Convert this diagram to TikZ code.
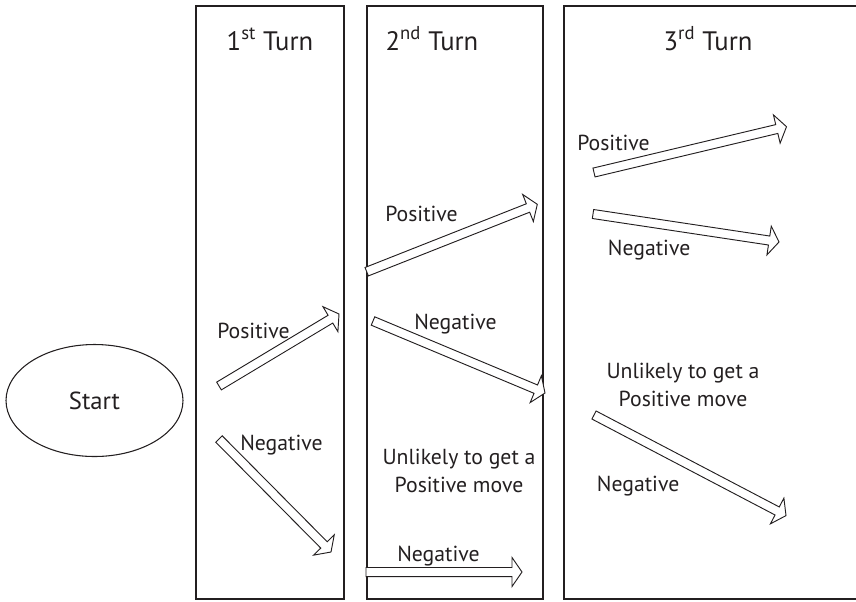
\documentclass[tikz,border=0pt]{standalone}
\usepackage{fontspec}
\setmainfont{PT Sans}
\usetikzlibrary{calc,shapes.geometric}
\definecolor{ink}{HTML}{231F20}
\newcommand{\blockarrow}[2]{%
  \coordinate (hb) at ($(#2)!7.5pt!(#1)$);
  \draw[arrowline] ($(#1)!3.4pt!90:(#2)$) -- ($(hb)!3.4pt!90:(#2)$) -- ($(hb)!10.9pt!90:(#2)$) -- (#2)
    -- ($(hb)!10.9pt!-90:(#2)$) -- ($(hb)!3.4pt!-90:(#2)$) -- ($(#1)!3.4pt!-90:(#2)$) -- cycle;}
\begin{document}
\begin{tikzpicture}[x=0.75pt,y=-0.75pt,
  column/.style={draw=ink, line width=0.8pt, minimum height=444.75pt, inner sep=0pt},
  title/.style={text=ink, font=\fontsize{20pt}{24pt}\selectfont, inner sep=0pt, anchor=base},
  lbl/.style={text=ink, font=\fontsize{16.3pt}{21pt}\selectfont, inner sep=0pt, anchor=base west},
  lbltwo/.style={text=ink, font=\fontsize{16.3pt}{21pt}\selectfont, inner sep=0pt, align=center, anchor=base},
  arrowline/.style={draw=ink, line width=0.7pt, line join=miter, fill=white},
  startnode/.style={ellipse, draw=ink, line width=0.8pt, minimum width=132.75pt, minimum height=84pt, text=ink, font=\fontsize{18.5pt}{22pt}\selectfont}]
\useasboundingbox (0,0) rectangle (856,601);
% columns
\node[column, minimum width=111pt] (c1) at (270,302.5) {};
\node[column, minimum width=132pt] (c2) at (455,302.5) {};
\node[column, minimum width=229.5pt] (c3) at (717,302.5) {};
% titles
\node[title] (t1) at (270,50) {1\textsuperscript{st} Turn};
\node[title] (t2) at (432,50) {2\textsuperscript{nd} Turn};
\node[title] (t3) at (708,50) {3\textsuperscript{rd} Turn};
% start
\node[startnode] (start) at (94.5,400.5) {Start};
% arrow end points
\coordinate (a1s) at (219,386);   \coordinate (a1e) at (339,314);
\coordinate (a2s) at (219,439);   \coordinate (a2e) at (331,552);
\coordinate (a3s) at (366.7,271.7); \coordinate (a3e) at (537.3,204.3);
\coordinate (a4s) at (373,321);   \coordinate (a4e) at (545,393);
\coordinate (a5s) at (366,572);   \coordinate (a5e) at (522,572);
\coordinate (a6s) at (594,415);   \coordinate (a6e) at (786,515.6);
\coordinate (a7s) at (594,172.5); \coordinate (a7e) at (786.5,126.7);
\coordinate (a8s) at (593,214);   \coordinate (a8e) at (779,242);
\blockarrow{a1s}{a1e}
\blockarrow{a2s}{a2e}
\blockarrow{a3s}{a3e}
\blockarrow{a4s}{a4e}
\blockarrow{a5s}{a5e}
\blockarrow{a6s}{a6e}
\blockarrow{a7s}{a7e}
\blockarrow{a8s}{a8e}
% labels
\node[lbl] (p1) at (217,338) {Positive};
\node[lbl] (n1) at (240,450) {Negative};
\node[lbl] (p2) at (385,221.7) {Positive};
\node[lbl] (n2) at (414,329) {Negative};
\node[lbltwo] (u2) at (459,492) {Unlikely to get a\\Positive move};
\node[lbl] (n2b) at (397,561.7) {Negative};
\node[lbl] (p3) at (577,150.7) {Positive};
\node[lbl] (n3) at (607.7,255.7) {Negative};
\node[lbltwo] (u3) at (683,406.7) {Unlikely to get a\\Positive move};
\node[lbl] (n3b) at (596.7,491.7) {Negative};
\end{tikzpicture}
\end{document}
